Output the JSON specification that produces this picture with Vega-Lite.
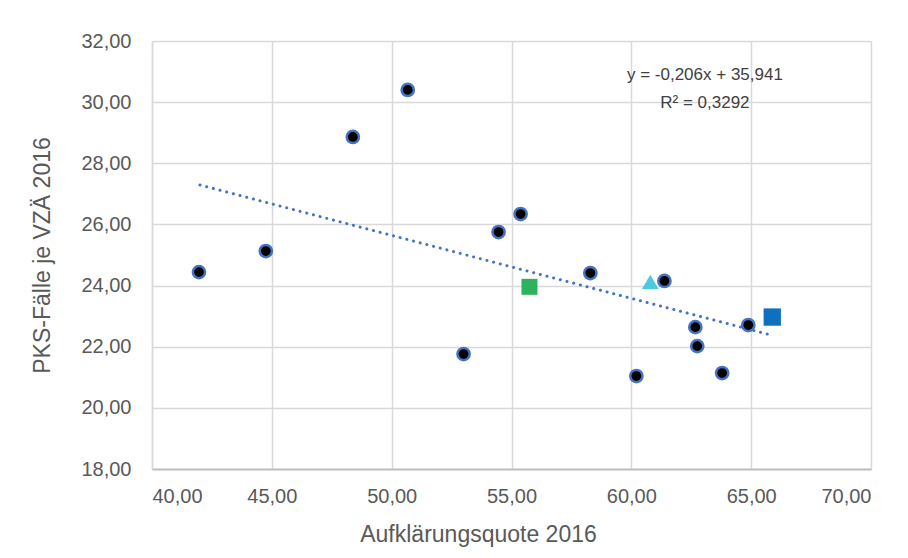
{
  "$schema": "https://vega.github.io/schema/vega-lite/v6.json",
  "width": 719,
  "height": 428,
  "autosize": {"type": "none"},
  "padding": {"left": 152, "top": 41, "right": 37, "bottom": 89},
  "background": "white",
  "config": {
    "view": {"stroke": null},
    "font": "Liberation Sans",
    "axis": {
      "grid": true,
      "gridColor": "#d9d9d9",
      "gridWidth": 1.5,
      "ticks": false,
      "tickSize": 0,
      "domain": false,
      "labelColor": "#595959",
      "titleColor": "#595959",
      "labelFont": "Liberation Sans",
      "titleFont": "Liberation Sans",
      "labelFontSize": 20,
      "titleFontSize": 23,
      "titleFontWeight": "normal"
    }
  },
  "datasets": {
    "points": [
      {"x": 41.96, "y": 24.44, "kind": "Land"},
      {"x": 44.75, "y": 25.13, "kind": "Land"},
      {"x": 48.38, "y": 28.86, "kind": "Land"},
      {"x": 50.67, "y": 30.40, "kind": "Land"},
      {"x": 53.00, "y": 21.76, "kind": "Land"},
      {"x": 54.46, "y": 25.75, "kind": "Land"},
      {"x": 55.38, "y": 26.34, "kind": "Land"},
      {"x": 58.29, "y": 24.41, "kind": "Land"},
      {"x": 60.21, "y": 21.04, "kind": "Land"},
      {"x": 61.38, "y": 24.15, "kind": "Land"},
      {"x": 62.67, "y": 22.64, "kind": "Land"},
      {"x": 62.75, "y": 22.02, "kind": "Land"},
      {"x": 63.79, "y": 21.14, "kind": "Land"},
      {"x": 64.88, "y": 22.71, "kind": "Land"}
    ],
    "special": [
      {"x": 55.75, "y": 23.96, "kind": "green"},
      {"x": 60.79, "y": 24.12, "kind": "cyan"},
      {"x": 65.88, "y": 22.97, "kind": "blue"}
    ],
    "trend": [
      {"x": 42.0, "y": 27.289},
      {"x": 65.88, "y": 22.370}
    ],
    "eq": [
      {"x": 63.07, "y": 30.89, "label": "y = -0,206x + 35,941"},
      {"x": 63.07, "y": 29.97, "label": "R² = 0,3292"}
    ]
  },
  "encoding": {
    "x": {
      "field": "x",
      "type": "quantitative",
      "scale": {"domain": [40, 70], "nice": false, "zero": false},
      "axis": {
        "values": [40, 45, 50, 55, 60, 65, 70],
        "labelExpr": "replace(format(datum.value, '.2f'), '.', ',')",
        "labelPadding": 17,
        "title": "Aufklärungsquote 2016",
        "titlePadding": 17,
        "titleX": 326,
        "titleAnchor": "middle",
        "domain": true,
        "domainColor": "#bfbfbf",
        "domainWidth": 2
      }
    },
    "y": {
      "field": "y",
      "type": "quantitative",
      "scale": {"domain": [18, 32], "nice": false, "zero": false},
      "axis": {
        "values": [18, 20, 22, 24, 26, 28, 30, 32],
        "labelExpr": "replace(format(datum.value, '.2f'), '.', ',')",
        "labelPadding": 21,
        "title": "PKS-Fälle je VZÄ 2016",
        "titlePadding": 26,
        "domain": true,
        "domainColor": "#d9d9d9",
        "domainWidth": 1.5
      }
    }
  },
  "layer": [
    {
      "data": {"name": "trend"},
      "mark": {"type": "line", "color": "#4472c4", "strokeWidth": 3, "strokeDash": [0.1, 6.8], "strokeCap": "round"}
    },
    {
      "data": {"name": "points"},
      "mark": {"type": "point", "shape": "circle", "filled": true, "fill": "black", "stroke": "#4472c4", "strokeWidth": 2.5, "opacity": 1, "size": 150}
    },
    {
      "data": {"name": "special"},
      "mark": {"type": "point", "filled": true, "opacity": 1, "strokeWidth": 0},
      "encoding": {
        "shape": {
          "field": "kind",
          "type": "nominal",
          "scale": {"domain": ["green", "cyan", "blue"], "range": ["square", "triangle-up", "square"]},
          "legend": null
        },
        "color": {
          "field": "kind",
          "type": "nominal",
          "scale": {"domain": ["green", "cyan", "blue"], "range": ["#2db35c", "#4ec8dd", "#0f70c0"]},
          "legend": null
        },
        "size": {
          "field": "kind",
          "type": "nominal",
          "scale": {"domain": ["green", "cyan", "blue"], "range": [256, 300, 256]},
          "legend": null
        }
      }
    },
    {
      "data": {"name": "eq"},
      "mark": {"type": "text", "fontSize": 17, "color": "#404040", "align": "center", "baseline": "middle", "font": "Liberation Sans"},
      "encoding": {"text": {"field": "label", "type": "nominal"}}
    }
  ]
}
